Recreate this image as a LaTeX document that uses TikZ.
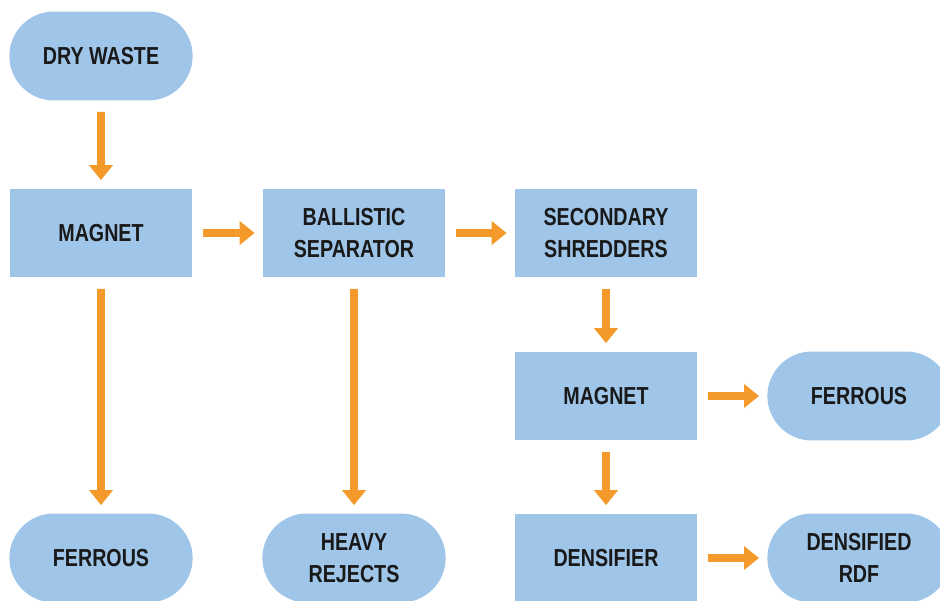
\documentclass[tikz,border=0pt]{standalone}
\usepackage{fontspec}
\newfontfamily\boxfont{Liberation Sans}[FakeStretch=0.8]
\usetikzlibrary{arrows.meta, shapes.misc}
\definecolor{boxblue}{HTML}{9FC5E8}
\definecolor{flowarrow}{HTML}{F39A2B}
\tikzset{
    procbox/.style={
        rectangle, fill=boxblue, minimum width=3.64cm, minimum height=1.78cm,
        align=center, text=black!90,
        font=\boxfont\bfseries\fontsize{14}{18}\selectfont
    },
    endbox/.style={procbox, rounded rectangle, minimum width=3.9cm},
    flow/.style={
        draw=flowarrow, line width=4.5pt,
        -{Triangle[length=0.3cm, width=0.46cm]},
        shorten <=0.22cm, shorten >=0.16cm
    }
}
\begin{document}
\begin{tikzpicture}[x=0.02cm, y=-0.02cm]

	% colonnes et lignes (en pixels)
	\def\ca{101}
	\def\cb{354}
	\def\cc{606}
	\def\cd{859}
	\def\ra{56}
	\def\rb{233}
	\def\rc{396}
	\def\rd{558}

	\useasboundingbox (0,0) rectangle (940,601);
	\clip (0,0) rectangle (940,601);

		% Noeuds
		\node[endbox] (drywaste) at (\ca,\ra) {DRY WASTE};
		\node[procbox] (magnetA) at (\ca,\rb) {MAGNET};
		\node[procbox] (ballistic) at (\cb,\rb) {BALLISTIC\\SEPARATOR};
		\node[procbox] (shredders) at (\cc,\rb) {SECONDARY\\SHREDDERS};
		\node[procbox] (magnetB) at (\cc,\rc) {MAGNET};
		\node[procbox] (densifier) at (\cc,\rd) {DENSIFIER};
		\node[endbox] (ferrousA) at (\ca,\rd) {FERROUS};
		\node[endbox] (rejects) at (\cb,\rd) {HEAVY\\REJECTS};
		\node[endbox] (ferrousB) at (\cd,\rc) {FERROUS};
		\node[endbox] (rdf) at (\cd,\rd) {DENSIFIED\\RDF};

		% Flèches
		\draw[flow] (drywaste) -- (magnetA);
		\draw[flow] (magnetA) -- (ballistic);
		\draw[flow] (ballistic) -- (shredders);
		\draw[flow] (magnetA) -- (ferrousA);
		\draw[flow] (ballistic) -- (rejects);
		\draw[flow] (shredders) -- (magnetB);
		\draw[flow] (magnetB) -- (ferrousB);
		\draw[flow] (magnetB) -- (densifier);
		\draw[flow] (densifier) -- (rdf);

\end{tikzpicture}
\end{document}
